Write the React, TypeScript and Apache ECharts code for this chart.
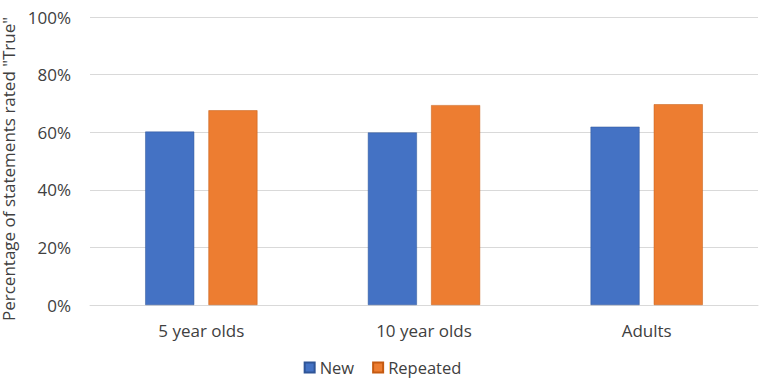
import React, { useEffect, useRef } from "react";
import * as echarts from "echarts";

const categories = ["5 year olds", "10 year olds", "Adults"];
const newValues = [60.2, 59.9, 61.9];
const repeatedValues = [67.6, 69.4, 69.7];
const yTicks = [0, 20, 40, 60, 80, 100];

export default function App() {
  const ref = useRef<HTMLDivElement>(null);
  useEffect(() => {
    if (!ref.current) return;
    const chart = echarts.init(ref.current, null, { renderer: "svg" });
    const font = "'Open Sans', 'Liberation Sans', sans-serif";
    const color = "#404040";
    chart.setOption({
      animation: false,
      textStyle: { fontFamily: font },
      legend: {
        bottom: 3,
        left: "center",
        itemWidth: 10,
        itemHeight: 10,
        itemGap: 18,
        icon: "rect",
        textStyle: { fontSize: 16.5, color, fontFamily: font },
        data: ["New", "Repeated"],
      },
      grid: { left: 90, right: 7, top: 17, bottom: 79, outerBoundsMode: "none", containLabel: false },
      xAxis: {
        type: "category",
        data: categories,
        axisLine: { show: true, lineStyle: { color: "#d9d9d9" } },
        axisTick: { show: false },
        axisLabel: { fontSize: 17, color, margin: 17, fontFamily: font },
      },
      yAxis: {
        type: "value",
        min: yTicks[0],
        max: yTicks[yTicks.length - 1],
        interval: 20,
        name: 'Percentage of statements rated "True"',
        nameLocation: "middle",
        nameGap: 62,
        nameTextStyle: { fontSize: 17, color, fontFamily: font, padding: [0, 16, 0, 0] },
        axisLine: { show: false },
        axisTick: { show: false },
        axisLabel: { fontSize: 17, color, margin: 19, formatter: "{value}%", fontFamily: font },
        splitLine: { lineStyle: { color: "#d9d9d9", width: 1 } },
      },
      series: [
        {
          name: "New",
          type: "bar",
          data: newValues,
          barWidth: 49,
          barGap: "29%",
          itemStyle: { color: "#4472C4", borderColor: "#2F5597", borderWidth: 0.5 },
        },
        {
          name: "Repeated",
          type: "bar",
          data: repeatedValues,
          barWidth: 49,
          barGap: "29%",
          itemStyle: { color: "#ED7D31", borderColor: "#C55A11", borderWidth: 0.5 },
        },
      ],
    });
    return () => chart.dispose();
  }, []);
  return <div ref={ref} style={{ width: 765, height: 384, position: "absolute", left: 0, top: 0 }} />;
}
